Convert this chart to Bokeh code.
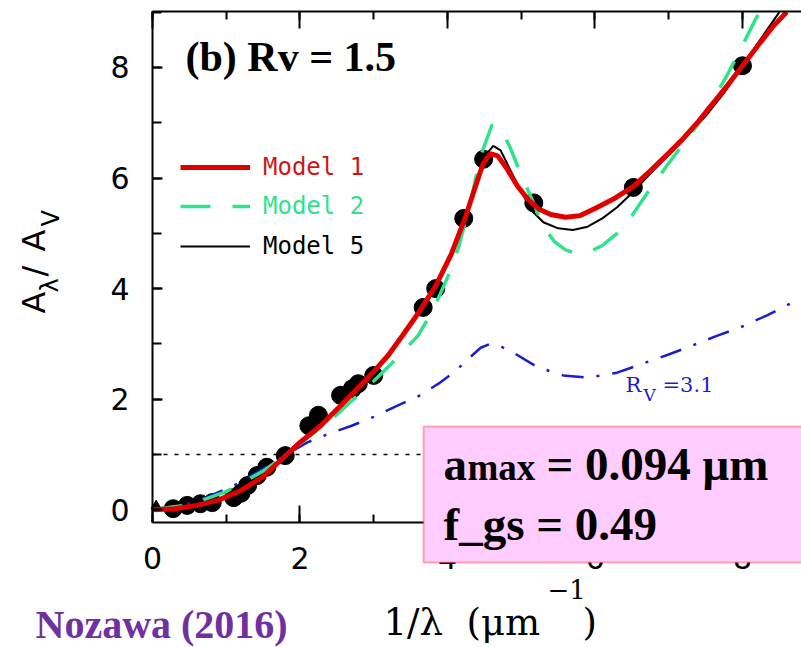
import math
from bokeh.plotting import figure
from bokeh.models import (Range1d, SingleIntervalTicker, BoxAnnotation, Label,
                          Legend, LegendItem, LinearAxis, CustomJSTickFormatter)
from bokeh.embed import file_html
from bokeh.resources import INLINE

# ---------------- data ----------------
obs_x = [0.28, 0.47, 0.65, 0.81, 1.10, 1.20, 1.29, 1.42, 1.55, 1.80, 2.12, 2.25,
         2.55, 2.71, 2.79, 3.00, 3.67, 3.84, 4.22, 4.49, 5.17, 6.52, 8.00]
obs_y = [0.02, 0.08, 0.11, 0.13, 0.22, 0.30, 0.44, 0.62, 0.77, 0.98, 1.52, 1.71,
         2.07, 2.19, 2.28, 2.43, 3.66, 4.00, 5.27, 6.34, 5.55, 5.83, 8.03]

model1_x = [0.0, 0.3, 0.6, 0.9, 1.2, 1.5, 1.82, 2.0, 2.28, 2.55, 2.8, 3.0, 3.2, 3.4,
            3.6, 3.84, 4.05, 4.24, 4.38, 4.48, 4.58, 4.68, 4.8, 4.95, 5.1, 5.25, 5.4,
            5.6, 5.8, 6.0, 6.25, 6.52, 6.75, 7.0, 7.2, 7.4, 7.6, 7.8, 8.0, 8.2, 8.4,
            8.6]
model1_y = [0.0, 0.02, 0.08, 0.18, 0.35, 0.6, 1.0, 1.22, 1.52, 1.88, 2.22, 2.5, 2.8, 3.17,
            3.55, 4.05, 4.62, 5.28, 5.85, 6.25, 6.44, 6.4, 6.18, 5.85, 5.6, 5.43, 5.34,
            5.29, 5.32, 5.45, 5.62, 5.85, 6.13, 6.45, 6.72, 7.02, 7.35, 7.68, 8.03, 8.38,
            8.72, 9.0]

model5_x = [0.0, 0.3, 0.6, 0.9, 1.2, 1.5, 1.82, 2.0, 2.28, 2.55, 2.8, 3.0, 3.2, 3.4,
            3.6, 3.84, 4.05, 4.24, 4.4, 4.52, 4.62, 4.72, 4.85, 5.0, 5.15, 5.3, 5.5,
            5.7, 5.9, 6.1, 6.3, 6.52, 6.75, 7.0, 7.25, 7.5, 7.75, 8.0, 8.25, 8.5]
model5_y = [0.0, 0.02, 0.07, 0.17, 0.34, 0.6, 1.0, 1.22, 1.53, 1.9, 2.24, 2.5, 2.8, 3.15,
            3.52, 4.0, 4.58, 5.25, 5.95, 6.42, 6.58, 6.5, 6.15, 5.75, 5.4, 5.2, 5.09,
            5.06, 5.12, 5.27, 5.47, 5.75, 6.08, 6.42, 6.76, 7.12, 7.54, 8.02, 8.52, 9.0]

model2_x = [0.0, 0.5, 1.0, 1.5, 1.82, 2.1, 2.4, 2.7, 3.0, 3.3, 3.6, 3.8, 4.0, 4.15,
            4.3, 4.45, 4.6, 4.7, 4.85, 5.0, 5.15, 5.3, 5.45, 5.6, 5.75, 5.9, 6.1, 6.3,
            6.5, 6.73, 7.0, 7.2, 7.4, 7.6, 7.8, 8.0, 8.15, 8.23]
model2_y = [0.0, 0.09, 0.33, 0.7, 1.0, 1.3, 1.6, 1.97, 2.33, 2.72, 3.15, 3.6, 4.2, 4.75,
            5.5, 6.4, 6.95, 6.95, 6.55, 6.05, 5.6, 5.12, 4.85, 4.7, 4.63, 4.65, 4.78, 5.0,
            5.32, 5.77, 6.27, 6.62, 6.98, 7.42, 7.88, 8.4, 8.8, 9.0]

mw_x = [0.0, 0.5, 0.74, 0.95, 1.15, 1.5, 1.69, 1.82, 2.1, 2.4, 2.7, 3.0, 3.3, 3.6, 3.9,
        4.1, 4.3, 4.45, 4.58, 4.7, 4.92, 5.22, 5.57, 5.9, 6.3, 6.66, 6.98, 7.3, 7.66,
        7.97, 8.34, 8.65, 8.8]
mw_y = [0.0, 0.12, 0.23, 0.35, 0.47, 0.74, 0.89, 1.0, 1.22, 1.38, 1.52, 1.68, 1.87, 2.05,
        2.3, 2.5, 2.75, 2.93, 3.0, 2.97, 2.82, 2.58, 2.43, 2.39, 2.48, 2.65, 2.8, 2.96,
        3.15, 3.3, 3.52, 3.73, 3.83]

tri_x = [0.05]
tri_y = [0.07]

ref_level = [1.0]
legend_labels = ["Model 1", "Model 2", "Model 5"]

RED = "#e00000"
GREEN = "#2ee38a"
BLUE = "#1c1cc8"

# ---------------- figure: the frame fills the whole canvas ----------------
X0, X1 = -2.061, 8.800
Y0, Y1 = -2.490, 9.210
p = figure(width=801, height=647, output_backend="svg", toolbar_location=None,
           x_range=Range1d(X0, X1), y_range=Range1d(Y0, Y1),
           min_border=0, min_border_left=0, min_border_right=0,
           min_border_top=0, min_border_bottom=0)
p.outline_line_color = None
p.xgrid.visible = False
p.ygrid.visible = False
p.background_fill_color = "white"
p.border_fill_color = "white"

X_AX = -0.2206   # data y of the bottom frame line
Y_TOP = 9.01     # data y of the top frame line


def style_axis(ax, tick_in, minor_in, label_size, standoff):
    ax.ticker = SingleIntervalTicker(interval=2, num_minor_ticks=2)
    ax.axis_line_width = 2
    ax.axis_line_color = "black"
    ax.major_tick_in = tick_in
    ax.major_tick_out = 0
    ax.minor_tick_in = minor_in
    ax.minor_tick_out = 0
    ax.major_tick_line_width = 2
    ax.minor_tick_line_width = 2
    ax.major_tick_line_color = "black"
    ax.minor_tick_line_color = "black"
    ax.major_label_text_font = "DejaVu Sans"
    ax.major_label_text_font_size = label_size
    ax.major_label_text_color = "black"
    ax.major_label_standoff = standoff


xa = p.xaxis[0]
style_axis(xa, 17, 8, "30px", 25)
xa.fixed_location = X_AX
xa.bounds = (0, X1)

ya = p.yaxis[0]
style_axis(ya, 10, 9, "30px", 23)
ya.fixed_location = 0
ya.bounds = (X_AX, Y_TOP)

top_axis = LinearAxis(fixed_location=Y_TOP, bounds=(0, X1),
                      formatter=CustomJSTickFormatter(code="return ''"))
style_axis(top_axis, 17, 8, "30px", 0)
p.add_layout(top_axis, "above")

# y = 1 reference (dotted), starting at x = 0
p.ray(x=[0], y=ref_level, length=0, angle=0, line_color="black",
      line_width=1.5, line_dash="4 7")

# observed points
p.scatter(obs_x, obs_y, size=18, color="black")
p.scatter(tri_x, tri_y, marker="triangle", size=10, color="black")

# curves
p.line(mw_x, mw_y, line_color=BLUE, line_width=2.5, line_dash="22 13 3 13")
r5 = p.line(model5_x, model5_y, line_color="black", line_width=2)
r2 = p.line(model2_x, model2_y, line_color=GREEN, line_width=3.5, line_dash="30 22")
r1 = p.line(model1_x, model1_y, line_color=RED, line_width=5)

# legends (one per entry so each label keeps its own colour)
for lab, rend, col, vy in [(legend_labels[0], r1, "#d01515", 466),
                           (legend_labels[1], r2, GREEN, 427),
                           (legend_labels[2], r5, "black", 387)]:
    lg = Legend(items=[LegendItem(label=lab, renderers=[rend])], location=(180, vy),
                glyph_width=70, glyph_height=26, label_height=26, label_standoff=13,
                padding=0, margin=0, spacing=0, border_line_color=None,
                background_fill_alpha=0, label_text_font="DejaVu Sans Mono",
                label_text_font_size="24px", label_text_color=col)
    p.add_layout(lg, "center")

# text placement helper: (px, py) = baseline-left point in the target picture
SX, SY, PX0, PY0 = 73.75, 55.3, 152.0, 509.3
K = 0.35  # baseline correction (fraction of the font size)


def txt(px, py, t, font, size, color="black", style="normal", rotated=False, **kw):
    if rotated:
        px = px - K * size
    else:
        py = py - K * size
    p.add_layout(Label(x=(px - PX0) / SX, y=(PY0 - py) / SY, text=t, text_font=font,
                       text_font_size=f"{size}px", text_color=color,
                       text_font_style=style, text_baseline="alphabetic",
                       angle=(math.pi / 2 if rotated else 0), **kw))


# panel title
txt(185, 71, "(b) Rv = 1.5", "Liberation Serif", 42, style="bold")

# R_V = 3.1 label
txt(625, 392, "R", "DejaVu Serif", 21, BLUE)
txt(643, 400, "V", "DejaVu Serif", 17, BLUE)
txt(662, 392, "=3.1", "DejaVu Serif", 21, BLUE)

# x-axis title
txt(383, 635, "1/\u03bb\u00a0\u00a0(\u03bcm", "DejaVu Serif", 37)
txt(547, 598, "\u22121", "DejaVu Serif", 26)
txt(582, 635, ")", "DejaVu Serif", 37)

# y-axis title (rotated pieces)
for t, py, fs, bx in [("A", 313, 32, 45), ("\u03bb", 292, 24, 58),
                      ("/", 276, 32, 45), ("A", 251, 32, 45), ("V", 226, 24, 59)]:
    txt(bx, py, t, "DejaVu Sans", fs, rotated=True)

# pink info box
p.add_layout(BoxAnnotation(left=3.675, right=9.5, bottom=-0.953, top=1.506,
                           fill_color="#ffccff", fill_alpha=1.0,
                           line_color="#ff0000", line_width=2))
for t, px, py, fs in [("a", 443, 480, 47), ("max", 467, 480, 37),
                      ("= 0.094 \u03bcm", 546, 480, 47),
                      ("f_gs = 0.49", 443, 540, 47)]:
    txt(px, py, t, "Liberation Serif", fs, style="bold", level="overlay")

# citation
txt(35, 638, "Nozawa (2016)", "Liberation Serif", 40, "#7030a0", "bold")

open("out.html", "w").write(file_html(p, INLINE))
